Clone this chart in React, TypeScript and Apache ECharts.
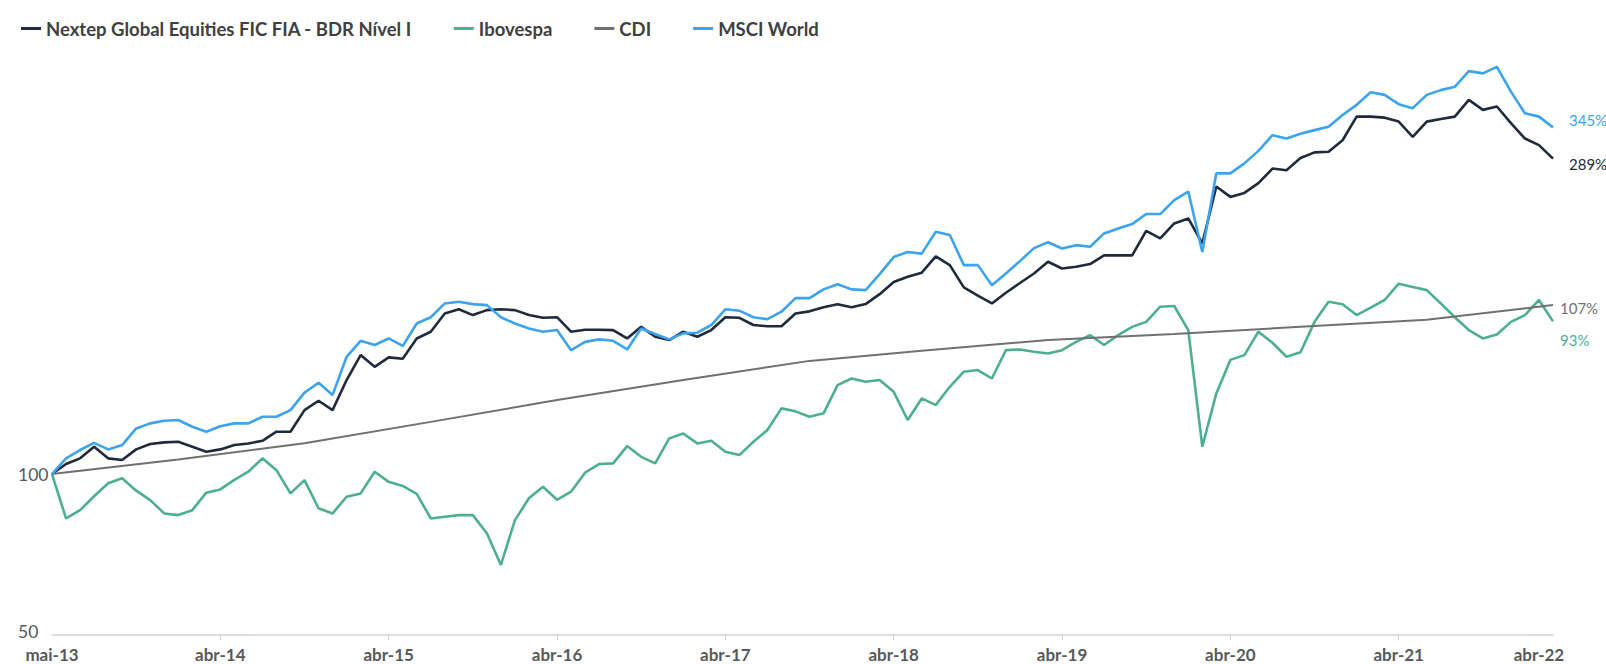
import React, { useEffect, useRef } from "react";
import * as echarts from "echarts";

// x-axis: months since mai-13 (index of monthly sample)
const xTickLabels = ["mai-13", "abr-14", "abr-15", "abr-16", "abr-17", "abr-18", "abr-19", "abr-20", "abr-21", "abr-22"];
const xLabelMonths = [0, 12, 24, 36, 48, 60, 72, 84, 96, 106];
const xTickMonths = [12, 24, 36, 48, 60, 72, 84, 96];
const yLabelValues = [50, 100];

const seriesNames = ["Nextep Global Equities FIC FIA - BDR Nível I", "Ibovespa", "CDI", "MSCI World"];
const endTexts = ["289%", "93%", "107%", "345%"];

// Monthly readings (base 100)
const nextep = [
  100, 104.4, 107.0, 112.5, 107.0, 106.2, 111.2, 113.8, 114.6, 114.9,
  112.5, 110.1, 111.2, 113.3, 114.1, 115.4, 120.0, 120.0, 131.7, 137.1,
  131.7, 149.9, 166.9, 158.7, 165.3, 164.3, 179.3, 184.6, 199.6, 203.3,
  198.3, 202.6, 203.3, 202.6, 198.3, 196.0, 196.5, 184.6, 186.2, 186.2,
  185.9, 179.3, 188.5, 180.6, 178.1, 184.6, 180.6, 185.9, 196.5, 196.0,
  190.0, 189.0, 189.0, 199.6, 201.5, 205.1, 207.7, 205.1, 207.9, 217.0,
  228.7, 233.8, 238.0, 255.4, 245.9, 223.4, 215.6, 208.5, 218.3, 227.7,
  237.2, 249.5, 242.4, 244.1, 247.0, 256.5, 256.5, 256.5, 285.1, 276.0,
  294.3, 300.7, 270.0, 345.0, 329.9, 335.6, 350.1, 372.7, 370.0, 390.0,
  399.6, 400.8, 421.0, 466.1, 466.1, 464.1, 456.2, 427.4, 456.2, 461.5,
  466.1, 501.0, 479.9, 486.9, 453.1, 424.2, 412.3, 389.0,
];

const ibovespa = [
  100, 82.6, 85.6, 90.9, 96.1, 98.2, 93.1, 89.4, 84.4, 83.8,
  85.6, 92.3, 93.6, 97.5, 101.0, 107.0, 101.7, 92.0, 97.4, 86.3,
  84.4, 90.7, 92.0, 101.0, 96.7, 95.0, 91.8, 82.6, 83.2, 83.8,
  83.8, 77.5, 67.6, 82.0, 90.1, 94.7, 89.5, 92.7, 100.6, 104.4,
  104.7, 112.8, 107.7, 104.7, 116.6, 119.1, 114.1, 115.4, 110.1, 108.5,
  114.9, 120.9, 132.7, 131.0, 128.0, 129.9, 146.7, 150.9, 148.8, 149.9,
  142.5, 126.2, 138.5, 134.6, 145.6, 155.4, 156.5, 150.9, 170.5, 171.0,
  169.3, 168.1, 170.5, 176.7, 181.9, 174.3, 181.9, 188.5, 192.6, 205.6,
  206.2, 185.9, 112.5, 141.5, 163.5, 166.9, 184.6, 176.0, 165.7, 169.0,
  192.6, 210.0, 207.7, 198.3, 204.7, 211.6, 227.0, 223.7, 220.8, 208.5,
  196.5, 185.9, 179.3, 182.4, 192.6, 198.3, 211.6, 193.0,
];

const msciWorld = [
  100, 107.0, 110.9, 114.4, 111.2, 113.3, 121.7, 124.4, 125.8, 126.2,
  122.6, 120.0, 122.9, 124.4, 124.4, 128.0, 128.0, 131.7, 142.0, 148.2,
  140.5, 165.7, 177.5, 174.3, 179.3, 173.6, 191.2, 196.5, 208.5, 210.0,
  207.9, 207.0, 196.5, 191.2, 187.2, 184.6, 186.0, 170.5, 176.7, 178.6,
  177.5, 171.0, 187.2, 182.8, 178.6, 183.3, 183.8, 190.0, 203.3, 202.1,
  196.5, 194.8, 201.2, 213.3, 213.3, 221.5, 226.5, 221.5, 220.8, 236.5,
  254.6, 260.2, 258.4, 283.9, 280.0, 245.9, 245.9, 225.5, 237.2, 250.2,
  264.6, 271.4, 264.2, 268.0, 266.1, 281.9, 288.0, 293.4, 306.4, 306.4,
  325.4, 337.6, 260.2, 365.1, 365.1, 381.1, 402.2, 430.3, 424.2, 433.0,
  439.8, 446.2, 469.5, 490.4, 517.9, 511.9, 491.9, 483.5, 511.9, 522.5,
  530.1, 567.1, 561.5, 577.4, 519.2, 472.9, 466.1, 445.0,
];

const cdiMonths = [0, 9, 18, 27, 36, 45, 54, 62, 71, 80, 89, 98, 107];
const cdi = [100, 106.5, 114.2, 125.2, 137.5, 149.9, 162.8, 170.1, 178.1, 182.8, 188.5, 194.4, 207.0];

const colors = ["#1F2A3D", "#4DAF92", "#707070", "#3BA3F0"];

export default function App() {
  const ref = useRef<HTMLDivElement>(null);

  useEffect(() => {
    if (!ref.current) return;
    const chart = echarts.init(ref.current, undefined, { renderer: "svg" });
    const font = "Lato";
    const dataSets = [
      nextep.map((v, i) => [i, v]),
      ibovespa.map((v, i) => [i, v]),
      cdiMonths.map((m, k) => [m, cdi[k]]),
      msciWorld.map((v, i) => [i, v]),
    ];
    const widths = [2.6, 2.6, 2.0, 2.6];
    const offsets = [
      [8, 5],
      [-1, 19],
      [-1, 3],
      [8, -7],
    ];
    chart.setOption({
      animation: false,
      backgroundColor: "#ffffff",
      color: colors,
      legend: {
        left: 16,
        top: 14,
        icon: "rect",
        itemWidth: 20,
        itemHeight: 3,
        itemGap: 42,
        data: seriesNames,
        textStyle: { fontFamily: font, fontSize: 18.5, fontWeight: "bold", color: "#404040" },
      },
      grid: { left: 52, right: 53, top: 58, bottom: 29 },
      xAxis: {
        type: "value",
        min: 0,
        max: 107,
        axisLine: { onZero: false, lineStyle: { color: "#d4d4d4", width: 1.5 } },
        axisTick: { show: true, customValues: xTickMonths, length: 5, lineStyle: { color: "#d4d4d4" } },
        splitLine: { show: false },
        axisLabel: {
          customValues: xLabelMonths,
          formatter: (v: number) => {
            const k = xLabelMonths.indexOf(Math.round(v));
            return k >= 0 ? xTickLabels[k] : "";
          },
          margin: 11,
          lineHeight: 17,
          fontFamily: font,
          fontSize: 17,
          fontWeight: "bold",
          color: "#595959",
        },
      },
      yAxis: {
        type: "log",
        logBase: 10,
        min: 50,
        max: 600,
        axisLine: { show: false },
        axisTick: { show: false },
        splitLine: { show: false },
        axisLabel: {
          formatter: (v: number) => {
            const r = Math.round(v);
            if (r === yLabelValues[0]) return "{lo|" + r + "}";
            return yLabelValues.indexOf(r) >= 0 ? String(r) : "";
          },
          align: "left",
          margin: 34,
          fontFamily: font,
          fontSize: 17.5,
          color: "#595959",
          rich: {
            lo: { fontFamily: font, fontSize: 17.5, color: "#595959", padding: [0, 0, 7, 0] },
          },
        },
      },
      series: seriesNames.map((name, k) => ({
        name,
        type: "line",
        data: dataSets[k],
        symbol: "none",
        showSymbol: false,
        lineStyle: { width: widths[k], color: colors[k] },
        itemStyle: { color: colors[k] },
        endLabel: {
          show: true,
          formatter: endTexts[k],
          offset: offsets[k],
          color: colors[k],
          fontFamily: font,
          fontSize: 15,
        },
        z: k + 2,
      })),
    });
    return () => chart.dispose();
  }, []);

  return (
    <div
      ref={ref}
      style={{ position: "fixed", left: 0, top: 0, width: 1606, height: 664, background: "#fff" }}
    />
  );
}
